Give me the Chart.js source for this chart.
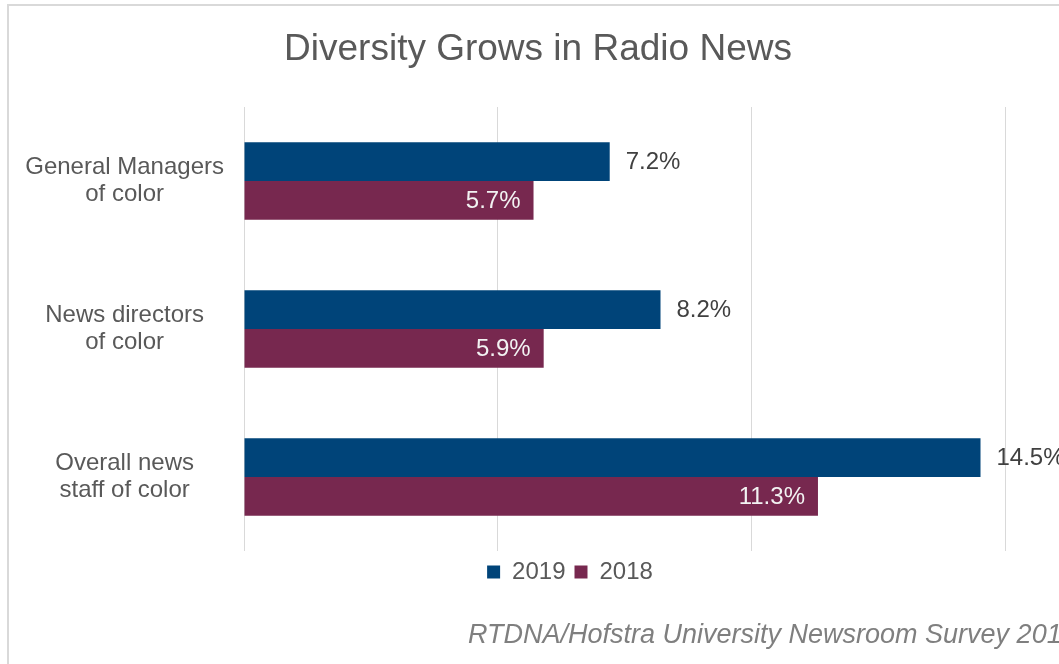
<!DOCTYPE html>
<html>
<head>
<meta charset="utf-8">
<title>Diversity Grows in Radio News</title>
<script src="https://cdn.jsdelivr.net/npm/chart.js@4/dist/chart.umd.min.js"></script>
<style>
    html, body { margin: 0; padding: 0; background: #fff; overflow: hidden; }
    body { width: 1059px; height: 664px; position: relative; }
    .frame {
        position: absolute; left: 7px; top: 4px;
        width: 1200px; height: 800px;
        border: 2px solid #d9d9d9;
    }
    #chart { position: absolute; left: 0; top: 0; }
</style>
</head>
<body>
<div class="frame"></div>
<canvas id="chart" width="1140" height="664"></canvas>

<script>
// Radio newsroom diversity, share of staff (%)
const categories = [
    ['General Managers', 'of color'],
    ['News directors', 'of color'],
    ['Overall news', 'staff of color']
];
const values2019 = [7.2, 8.2, 14.5];
const values2018 = [5.7, 5.9, 11.3];
const seriesNames = ['2019', '2018'];
const gridSteps = [0, 5, 10, 15];

const FONT = '"Liberation Sans", Arial, sans-serif';
const TEXT = '#595959';

// Title above and source line below the plot
const captions = {
    id: 'captions',
    afterDraw(chart) {
        const ctx = chart.ctx;
        ctx.save();
        ctx.fillStyle = TEXT;
        ctx.font = '37px ' + FONT;
        ctx.textAlign = 'center';
        ctx.textBaseline = 'alphabetic';
        ctx.fillText('Diversity Grows in Radio News', 538, 60);

        ctx.fillStyle = '#7f7f7f';
        ctx.font = 'italic 27px ' + FONT;
        ctx.textAlign = 'left';
        ctx.fillText('RTDNA/Hofstra University Newsroom Survey 2019', 468, 643);
        ctx.restore();
    }
};

// Percent labels: outside the 2019 bars, inside the 2018 bars
const barLabels = {
    id: 'barLabels',
    afterDatasetsDraw(chart) {
        const ctx = chart.ctx;
        ctx.save();
        ctx.font = '24px ' + FONT;
        ctx.textBaseline = 'middle';
        chart.data.datasets.forEach((ds, i) => {
            const meta = chart.getDatasetMeta(i);
            meta.data.forEach((bar, j) => {
                const text = ds.data[j].toFixed(1) + '%';
                if (i === 0) {
                    ctx.fillStyle = '#404040';
                    ctx.textAlign = 'left';
                    ctx.fillText(text, bar.x + 16, bar.y + 1);
                } else {
                    ctx.fillStyle = '#f2f2f2';
                    ctx.textAlign = 'right';
                    ctx.fillText(text, bar.x - 13, bar.y + 1);
                }
            });
        });
        ctx.restore();
    }
};

new Chart(document.getElementById('chart'), {
    type: 'bar',
    data: {
        labels: categories,
        datasets: [
            {
                label: seriesNames[0],
                data: values2019,
                backgroundColor: '#004479'
            },
            {
                label: seriesNames[1],
                data: values2018,
                backgroundColor: '#77284f'
            }
        ]
    },
    options: {
        indexAxis: 'y',
        responsive: false,
        animation: false,
        categoryPercentage: 0.524,
        barPercentage: 1,
        layout: {
            padding: { top: 107, bottom: 70, left: 0, right: 0 }
        },
        scales: {
            x: {
                min: gridSteps[0],
                max: 17.64,
                afterBuildTicks(scale) {
                    scale.ticks = gridSteps.map(v => ({ value: v }));
                },
                ticks: { display: false },
                grid: { color: '#d9d9d9', lineWidth: 1, drawTicks: false },
                border: { display: false }
            },
            y: {
                afterFit(scale) {
                    scale.width = 244;
                },
                ticks: {
                    color: TEXT,
                    font: { family: FONT, size: 24, lineHeight: 1.15 },
                    padding: 20,
                    crossAlign: 'center'
                },
                grid: { display: false, drawTicks: false },
                border: { display: false }
            }
        },
        plugins: {
            legend: {
                position: 'bottom',
                labels: {
                    boxWidth: 13,
                    boxHeight: 13,
                    padding: 9,
                    color: TEXT,
                    font: { family: FONT, size: 24 }
                }
            },
            title: { display: false },
            tooltip: { enabled: false }
        }
    },
    plugins: [captions, barLabels]
});
</script>
</body>
</html>
